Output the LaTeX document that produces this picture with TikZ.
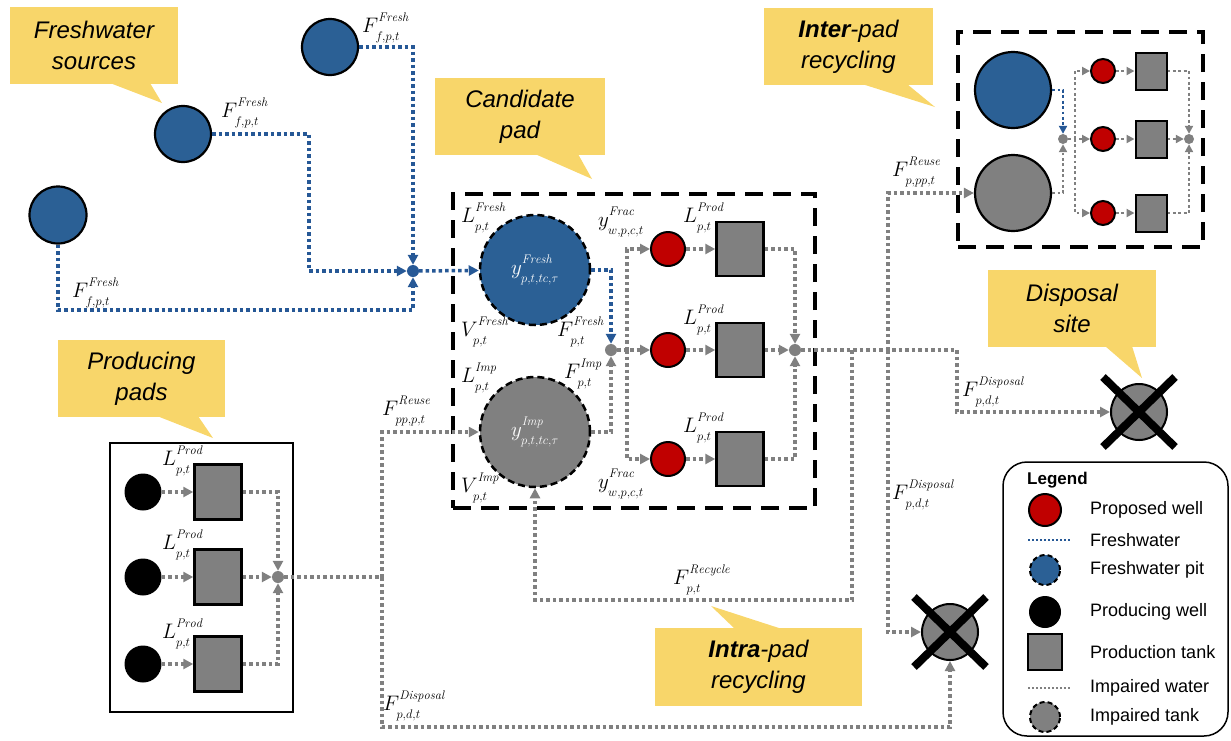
\RequirePackage{fix-cm}
\documentclass[tikz,border=0pt]{standalone}
\usepackage{fontspec}
\newfontfamily\arialf{Liberation Sans}
\usetikzlibrary{arrows.meta,calc}
\DeclareMathSizes{21}{21}{12.5}{9}
\newcommand{\lbl}[3]{$#1^{\raisebox{3pt}{$\scriptstyle\mathit{#2}$}}_{\raisebox{-2.5pt}{$\scriptstyle #3$}}$}
\definecolor{fblue}{RGB}{43,96,149}
\definecolor{lblue}{RGB}{38,88,150}
\definecolor{tgray}{RGB}{128,128,128}
\definecolor{lgray}{RGB}{128,128,128}
\definecolor{wred}{RGB}{192,0,0}
\definecolor{cyel}{RGB}{248,214,106}
\begin{document}
\begin{tikzpicture}[x=1pt,y=-1pt,
  fl/.style={line width=3.5pt,dash pattern=on 3.5pt off 3pt},
  bflow/.style={fl,draw=lblue},
  gflow/.style={fl,draw=lgray},
  thin flow/.style={line width=2.8pt,dash pattern=on 2.8pt off 2.6pt},
  arr/.style={-{Triangle[length=10pt,width=10pt]}},
  sarr/.style={-{Triangle[length=8pt,width=8pt]}},
  src/.style={circle,fill=fblue,draw=black,line width=2.2pt,minimum size=56pt,inner sep=0pt},
  bj/.style={circle,fill=lblue,minimum size=12pt,inner sep=0pt},
  gj/.style={circle,fill=tgray,minimum size=12pt,inner sep=0pt},
  sgj/.style={circle,fill=tgray,minimum size=10pt,inner sep=0pt},
  pit/.style={circle,draw=black,line width=2.5pt,dash pattern=on 7pt off 4pt,minimum size=110pt,inner sep=0pt,text=white,font=\fontsize{21}{24}\selectfont},
  well/.style={circle,fill=wred,draw=black,line width=2pt,minimum size=34pt,inner sep=0pt},
  pwell/.style={circle,fill=black,minimum size=37pt,inner sep=0pt},
  tank/.style={rectangle,fill=tgray,draw=black,line width=2.5pt,minimum width=47pt,minimum height=54pt,inner sep=0pt},
  dashbox/.style={draw=black,line width=3.5pt,dash pattern=on 18pt off 10pt,inner sep=0pt},
  callout/.style={fill=cyel,inner sep=0pt,minimum height=77pt,align=center,font=\arialf\fontsize{24}{31}\selectfont\itshape},
  lab/.style={anchor=west,inner sep=0pt,font=\fontsize{21}{24}\selectfont},
  xsite/.style={circle,fill=tgray,draw=black,line width=2pt,minimum size=56pt,inner sep=0pt},
  xmark/.style={line width=8pt,draw=black},
  legtext/.style={anchor=west,inner sep=0pt,font=\arialf\fontsize{18}{20}\selectfont}
]
\useasboundingbox (0,0) rectangle (1231,740);

% ---------- callouts ----------
\node[callout,minimum width=168pt] (cfs) at (94,45.5) {Freshwater\\sources};
\fill[cyel] (110,83) -- (162,103) -- (150,83) -- cycle;
\node[callout,minimum width=170pt] (ccp) at (520,116.5) {Candidate\\pad};
\fill[cyel] (535,154) -- (592,179) -- (578,154) -- cycle;
\node[callout,minimum width=169pt] (cip) at (848.5,46.5) {\textbf{Inter}-pad\\recycling};
\fill[cyel] (862,84) -- (935,107) -- (907,84) -- cycle;
\node[callout,minimum width=168pt] (cds) at (1072,308.5) {Disposal\\site};
\fill[cyel] (1105,346) -- (1142,378) -- (1132,346) -- cycle;
\node[callout,minimum width=167pt] (cpp) at (141.5,378.5) {Producing\\pads};
\fill[cyel] (157,416) -- (213,438) -- (198,416) -- cycle;
\node[callout,minimum width=207pt,minimum height=78pt] (crp) at (758.5,667) {\textbf{Intra}-pad\\recycling};
\fill[cyel] (735,629) -- (711,606) -- (782,629) -- cycle;

% ---------- boxes ----------
\node[dashbox,minimum width=362pt,minimum height=314pt] (cand) at (634,351) {};
\node[dashbox,minimum width=245pt,minimum height=215pt] (inter) at (1080.5,139.5) {};
\node[draw=black,line width=2.5pt,minimum width=183pt,minimum height=269pt,inner sep=0pt] (ppad) at (201.5,577.5) {};

% ---------- freshwater sources ----------
\node[src,minimum size=57pt] (sa) at (58,215) {};
\node[src] (sb) at (183,134) {};
\node[src] (sc) at (330,47) {};
\node[bj] (j1) at (413,271) {};
\coordinate (kB) at (309,271);
\coordinate (kA) at (413,310);

% ---------- candidate pad ----------
\node[pit,fill=fblue] (p1) at (535,270) {\lbl{y}{Fresh}{p,t,tc,\tau}};
\node[pit,fill=tgray] (p2) at (535,432) {\lbl{y}{Imp}{p,t,tc,\tau}};
\node[gj] (j2) at (611,350) {};
\coordinate (br) at (627,350);
\node[well] (w1) at (668,249) {};
\node[well] (w2) at (668,350) {};
\node[well] (w3) at (668,459) {};
\node[tank] (t1) at (740,249) {};
\node[tank] (t2) at (740,350) {};
\node[tank] (t3) at (740,459) {};
\node[gj] (j3) at (795,350) {};

% ---------- producing pad ----------
\node[pwell] (pw1) at (143,492) {};
\node[pwell] (pw2) at (143,577) {};
\node[pwell] (pw3) at (143,664) {};
\node[tank,minimum height=55pt] (pt1) at (218,492) {};
\node[tank,minimum height=55pt] (pt2) at (218,577) {};
\node[tank,minimum height=55pt] (pt3) at (218,664) {};
\node[gj] (j4) at (278,577) {};

% ---------- inter pad ----------
\node[src,minimum size=76pt] (ib) at (1013,90) {};
\node[src,fill=tgray,minimum size=76pt] (ig) at (1013,193) {};
\node[sgj] (j5) at (1063,139) {};
\coordinate (ibr) at (1075,139);
\node[well,minimum size=24pt] (iw1) at (1103,71) {};
\node[well,minimum size=24pt] (iw2) at (1103,139) {};
\node[well,minimum size=24pt] (iw3) at (1103,213) {};
\node[tank,line width=2pt,minimum width=31pt,minimum height=37pt] (it1) at (1151,71) {};
\node[tank,line width=2pt,minimum width=31pt,minimum height=37pt] (it2) at (1151,139) {};
\node[tank,line width=2pt,minimum width=31pt,minimum height=37pt] (it3) at (1151,213) {};
\node[sgj] (j6) at (1189,139) {};

% ---------- disposal sites ----------
\node[xsite] (x1) at (1139,412) {};
\node[xsite] (x2) at (950,632) {};

% ---------- routing points ----------
\coordinate (kR) at (852,350);
\coordinate (kR2) at (535,600);
\coordinate (kU) at (888,350);
\coordinate (kD) at (957,350);
\coordinate (kP) at (382,577);
\coordinate (kP2) at (382,727);

% ---------- freshwater flows ----------
\draw[bflow,arr] (sc) -| (j1);
\draw[bflow,arr] (sb) -| (kB) -- (j1);
\draw[bflow,arr] (sa) |- (kA) -- (j1);
\draw[bflow,arr] (j1) -- (p1);
\draw[bflow,arr] (p1) -| (j2);

% ---------- impaired flows, candidate pad ----------
\draw[gflow,arr] (p2) -| (j2);
\draw[gflow,arr] (j2) -- (w2);
\draw[gflow,arr] (br) |- (w1);
\draw[gflow,arr] (br) |- (w3);
\draw[gflow,arr] (w1) -- (t1);
\draw[gflow,arr] (w2) -- (t2);
\draw[gflow,arr] (w3) -- (t3);
\draw[gflow,arr] (t1) -| (j3);
\draw[gflow,arr] (t2) -- (j3);
\draw[gflow,arr] (t3) -| (j3);
\draw[gflow] (j3) -- (kD);
\draw[gflow,arr] (kD) |- (x1);
\draw[gflow,arr] (kR) |- (kR2) -- (p2);
\draw[gflow,arr] (kU) |- (ig);
\draw[gflow,arr] (kU) |- (x2);

% ---------- producing pad flows ----------
\draw[gflow,arr] (pw1) -- (pt1);
\draw[gflow,arr] (pw2) -- (pt2);
\draw[gflow,arr] (pw3) -- (pt3);
\draw[gflow,arr] (pt1) -| (j4);
\draw[gflow,arr] (pt2) -- (j4);
\draw[gflow,arr] (pt3) -| (j4);
\draw[gflow] (j4) -- (kP);
\draw[gflow,arr] (kP) |- (p2);
\draw[gflow,arr] (kP) -- (kP2) -| (x2);

% ---------- inter pad flows ----------
\draw[thin flow,draw=lblue,sarr] (ib) -| (j5);
\draw[thin flow,draw=lgray,sarr] (ig) -| (j5);
\draw[thin flow,draw=lgray,sarr] (j5) -- (iw2);
\draw[thin flow,draw=lgray,sarr] (ibr) |- (iw1);
\draw[thin flow,draw=lgray,sarr] (ibr) |- (iw3);
\draw[thin flow,draw=lgray,sarr] (iw1) -- (it1);
\draw[thin flow,draw=lgray,sarr] (iw2) -- (it2);
\draw[thin flow,draw=lgray,sarr] (iw3) -- (it3);
\draw[thin flow,draw=lgray,sarr] (it1) -| (j6);
\draw[thin flow,draw=lgray,sarr] (it2) -- (j6);
\draw[thin flow,draw=lgray,sarr] (it3) -| (j6);

% ---------- X marks ----------
\draw[xmark] ($(x1)+(-36,-35)$) -- ($(x1)+(36,35)$);
\draw[xmark] ($(x1)+(36,-35)$) -- ($(x1)+(-36,35)$);
\draw[xmark] ($(x2)+(-36,-35)$) -- ($(x2)+(36,35)$);
\draw[xmark] ($(x2)+(36,-35)$) -- ($(x2)+(-36,35)$);

% ---------- labels ----------
\node[lab] (lfc) at (362,28) {\lbl{F}{Fresh}{f,p,t}};
\node[lab] (lfb) at (221,113) {\lbl{F}{Fresh}{f,p,t}};
\node[lab] (lfa) at (72,293) {\lbl{F}{Fresh}{f,p,t}};
\node[lab] (llf) at (461,218) {\lbl{L}{Fresh}{p,t}};
\node[lab] (lvf) at (461,332) {\lbl{V}{Fresh}{p,t}};
\node[lab] (lff) at (557,332) {\lbl{F}{Fresh}{p,t}};
\node[lab] (lli) at (461,378) {\lbl{L}{Imp}{p,t}};
\node[lab] (lfi) at (564,374) {\lbl{F}{Imp}{p,t}};
\node[lab] (lvi) at (461,488) {\lbl{V}{Imp}{p,t}};
\node[lab] (lyt) at (598,222) {\lbl{y}{Frac}{w,p,c,t}};
\node[lab] (lyb) at (598,484) {\lbl{y}{Frac}{w,p,c,t}};
\node[lab] (lp1) at (683,218) {\lbl{L}{Prod}{p,t}};
\node[lab] (lp2) at (683,320) {\lbl{L}{Prod}{p,t}};
\node[lab] (lp3) at (683,428) {\lbl{L}{Prod}{p,t}};
\node[lab] (lq1) at (162,461) {\lbl{L}{Prod}{p,t}};
\node[lab] (lq2) at (162,545) {\lbl{L}{Prod}{p,t}};
\node[lab] (lq3) at (162,634) {\lbl{L}{Prod}{p,t}};
\node[lab] (lru) at (382,411) {\lbl{F}{Reuse}{pp,p,t}};
\node[lab] (ldb) at (383,706) {\lbl{F}{Disposal}{p,d,t}};
\node[lab] (lrc) at (673,580) {\lbl{F}{Recycle}{p,t}};
\node[lab] (lrp) at (892,172) {\lbl{F}{Reuse}{p,pp,t}};
\node[lab] (ld1) at (962,392) {\lbl{F}{Disposal}{p,d,t}};
\node[lab] (ld2) at (892,495) {\lbl{F}{Disposal}{p,d,t}};

% ---------- legend ----------
\node[draw=black,line width=1.5pt,rounded corners=24pt,minimum width=225pt,minimum height=274pt,inner sep=0pt] (leg) at (1115.5,599) {};
\node[anchor=west,inner sep=0pt,font=\arialf\fontsize{17}{20}\selectfont\bfseries] (legt) at (1027,480) {Legend};
\node[well,minimum size=32pt] (lg1) at (1045,510) {};
\coordinate (lg2a) at (1028,540);
\coordinate (lg2b) at (1070,540);
\draw[line width=2pt,draw=lblue,dash pattern=on 2pt off 2pt] (lg2a) -- (lg2b);
\node[circle,fill=fblue,draw=black,line width=2pt,dash pattern=on 5pt off 3pt,minimum size=30pt,inner sep=0pt] (lg3) at (1045,570) {};
\node[pwell,minimum size=32pt] (lg4) at (1045,612) {};
\node[tank,minimum width=34pt,minimum height=36pt] (lg5) at (1045,652) {};
\coordinate (lg6a) at (1028,688);
\coordinate (lg6b) at (1070,688);
\draw[line width=2pt,draw=lgray,dash pattern=on 2pt off 2pt] (lg6a) -- (lg6b);
\node[circle,fill=tgray,draw=black,line width=2pt,dash pattern=on 5pt off 3pt,minimum size=30pt,inner sep=0pt] (lg7) at (1045,717) {};
\node[legtext] (lt1) at (1090,510) {Proposed well};
\node[legtext] (lt2) at (1090,540) {Freshwater};
\node[legtext] (lt3) at (1090,570) {Freshwater pit};
\node[legtext] (lt4) at (1090,612) {Producing well};
\node[legtext] (lt5) at (1090,652) {Production tank};
\node[legtext] (lt6) at (1090,688) {Impaired water};
\node[legtext] (lt7) at (1090,717) {Impaired tank};
\end{tikzpicture}
\end{document}
